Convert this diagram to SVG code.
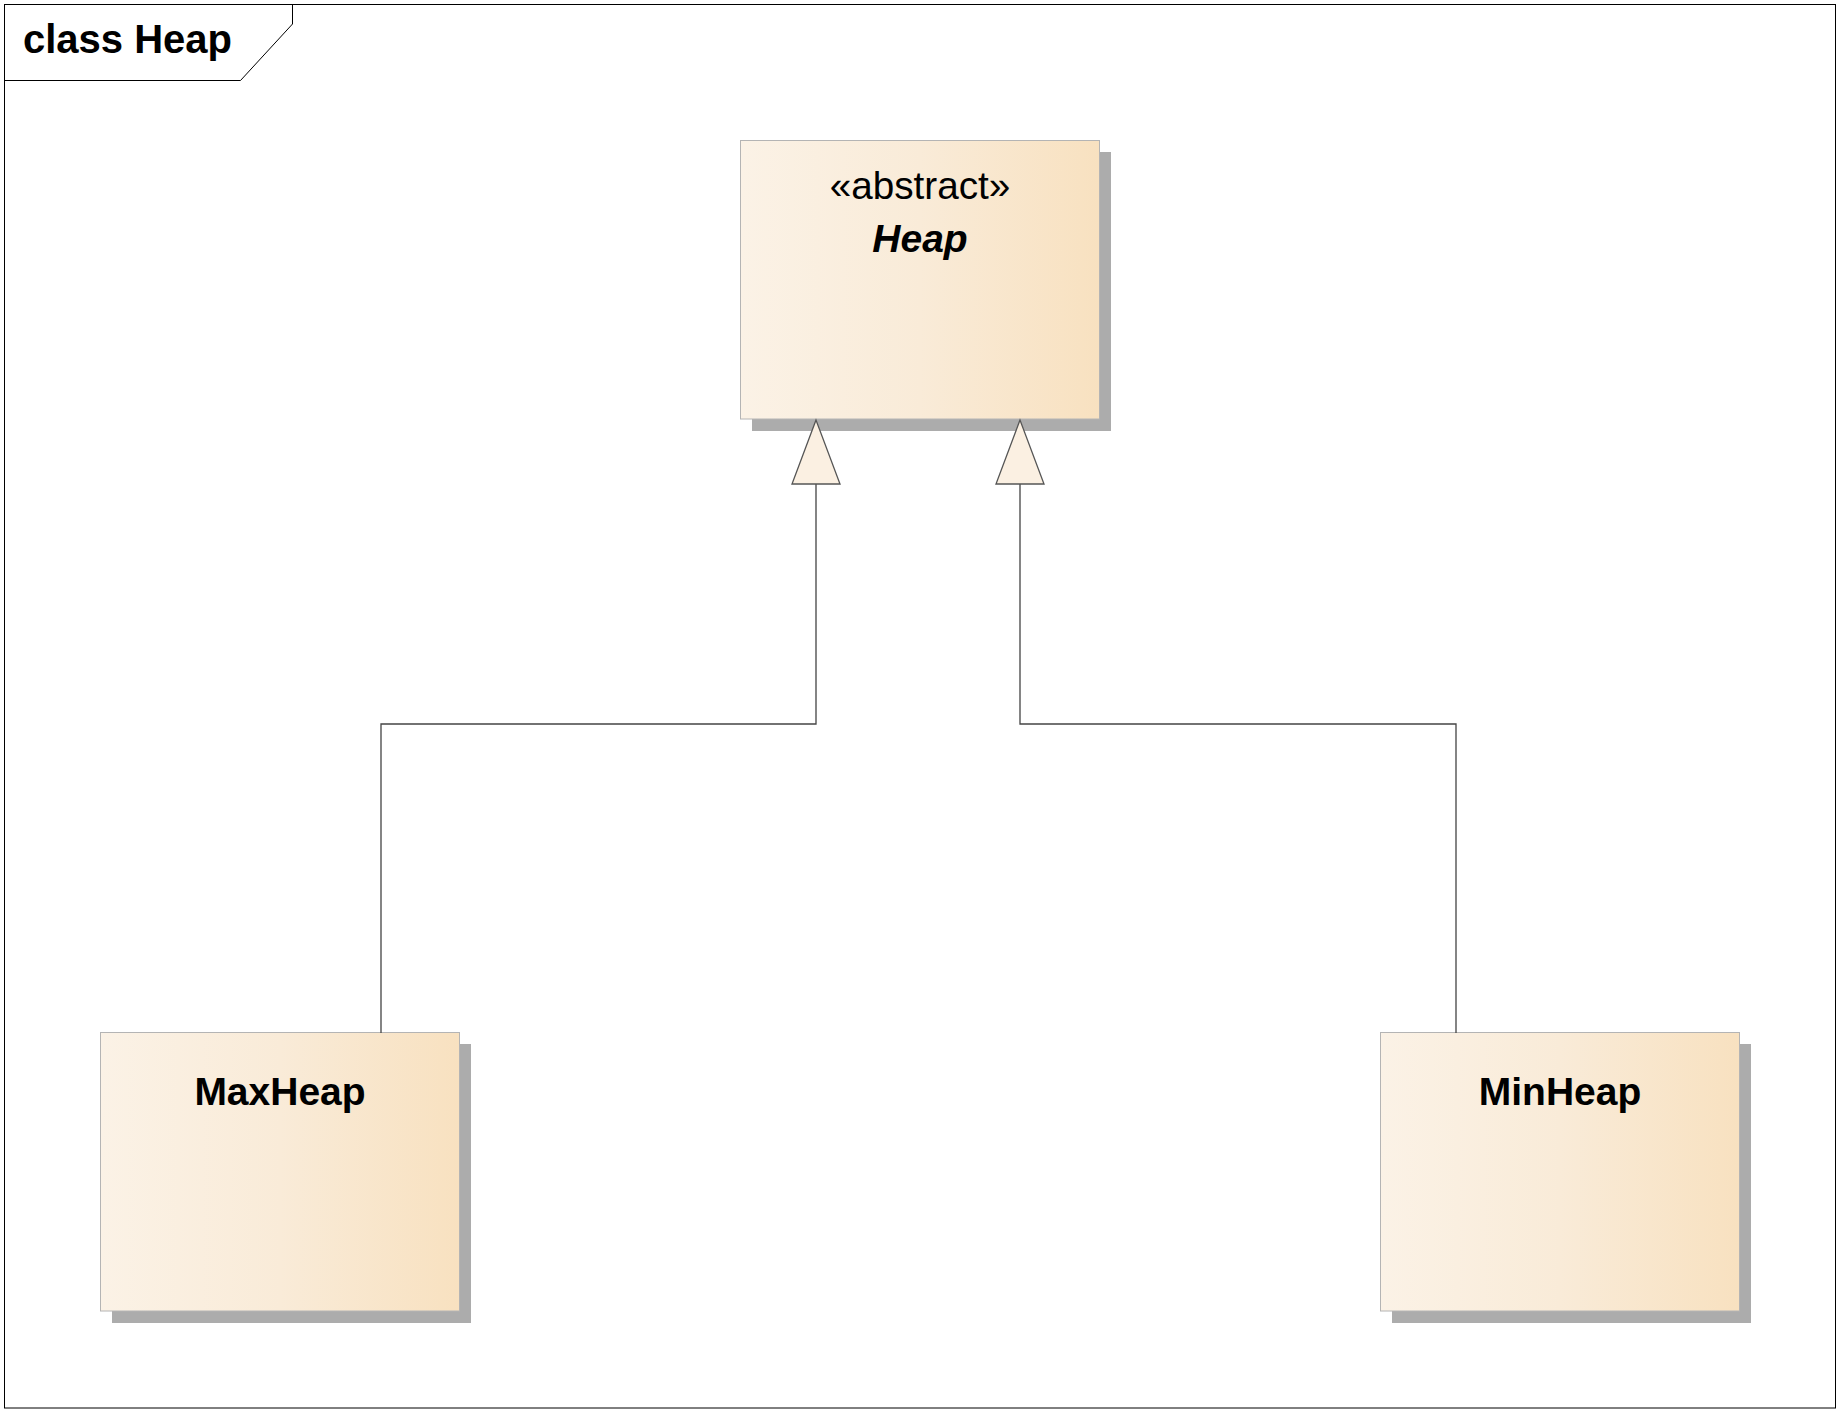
<svg xmlns="http://www.w3.org/2000/svg" width="1840" height="1412" viewBox="0 0 1840 1412">
<defs>
<linearGradient id="fill" x1="0" y1="0" x2="1" y2="0">
<stop offset="0" stop-color="#fbf2e6"/>
<stop offset="0.5" stop-color="#f9ebd8"/>
<stop offset="1" stop-color="#f8e1c0"/>
</linearGradient>
<style>
.box{fill:url(#fill);stroke:#b4b4b4;stroke-width:1}
.shadow{fill:#acacac}
.conn{fill:none;stroke:#444;stroke-width:1.3}
.tri{fill:#fbf0e2;stroke:#555;stroke-width:1.3}
.name{font-family:"Liberation Sans",Arial,sans-serif;font-size:39px;font-weight:bold;text-anchor:middle;fill:#000}
.stereo{font-family:"Liberation Sans",Arial,sans-serif;font-size:38.7px;text-anchor:middle;fill:#000}
.frame{fill:none;stroke:#000;stroke-width:1}
</style>
</defs>
<rect width="1840" height="1412" fill="#fff"/>
<g id="frame">
<rect class="frame" x="4.5" y="4.5" width="1831" height="1403.5"/>
<path class="frame" d="M4.5 80.5 H240.5 L292.5 24 V4.5"/>
<text x="23" y="53" font-family="Liberation Sans,Arial,sans-serif" font-size="40" font-weight="bold" fill="#000">class Heap</text>
</g>
<g id="node-heap">
<rect class="shadow" x="752" y="152" width="359" height="279"/>
<rect class="box" x="740.5" y="140.5" width="359" height="278.5"/>
<text class="stereo" x="920" y="199">«abstract»</text>
<text class="name" x="920" y="252" font-style="italic">Heap</text>
</g>
<g id="node-maxheap">
<rect class="shadow" x="112" y="1044" width="359" height="279"/>
<rect class="box" x="100.5" y="1032.5" width="359" height="278.5"/>
<text class="name" x="280" y="1105">MaxHeap</text>
</g>
<g id="node-minheap">
<rect class="shadow" x="1392" y="1044" width="359" height="279"/>
<rect class="box" x="1380.5" y="1032.5" width="359" height="278.5"/>
<text class="name" x="1560" y="1105">MinHeap</text>
</g>
<g id="connectors">
<path class="conn" d="M381 1033 V724 H816 V484"/>
<path class="conn" d="M1456 1033 V724 H1020 V484"/>
<path class="tri" d="M816 420 L792 484 H840 Z"/>
<path class="tri" d="M1020 420 L996 484 H1044 Z"/>
</g>
</svg>
